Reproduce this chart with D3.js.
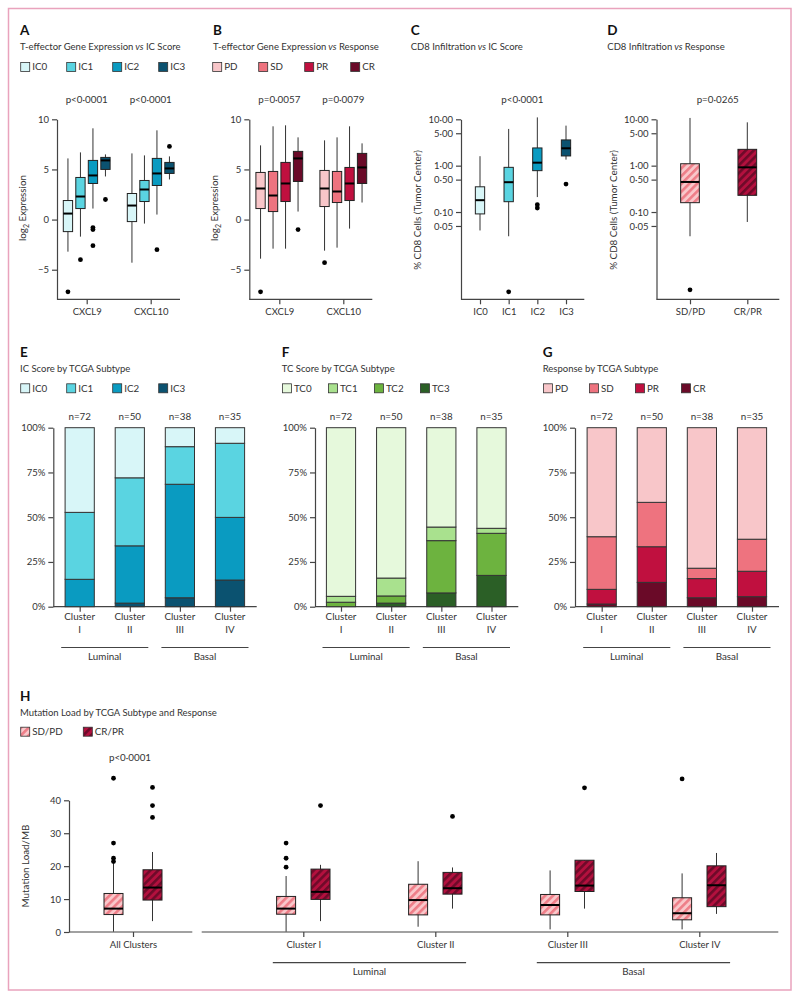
<!DOCTYPE html>
<html><head><meta charset="utf-8">
<script src="https://cdn.jsdelivr.net/npm/d3@7"></script>
<style>
body{margin:0;background:#fff;}
text{font-family:Lato,"Open Sans",sans-serif;fill:#333;}
.axis path,.axis line{stroke:#444;stroke-width:1.2;}
.axis text{font-family:Lato,"Open Sans",sans-serif;fill:#333;font-size:9.5px;}
</style></head><body>
<svg id="chart" width="800" height="1000"></svg>
<script>
// ---------- DATA ----------
const genes = ["CXCL9", "CXCL10"];
const icScores = ["IC0", "IC1", "IC2", "IC3"];
const tcScores = ["TC0", "TC1", "TC2", "TC3"];
const responses = ["PD", "SD", "PR", "CR"];
const respPairs = ["SD/PD", "CR/PR"];
// box stats: [whiskerLow, q1, median, q3, whiskerHigh]
const aCXCL9 = [[-3.2,-1.2,0.6,1.9,6.1],[-1.7,1.1,2.3,4.2,6.7],[1.1,3.6,4.4,5.9,9.1],[4.3,5.0,5.9,6.2,6.5]];
const aCXCL9Out = [[-7.2],[-4.0],[-0.8,-1.0,-2.6],[2.0]];
const aCXCL10 = [[-4.3,-0.2,1.4,2.6,6.6],[-0.4,1.8,3.0,3.9,6.4],[0.5,3.4,4.6,6.1,8.9],[4.0,4.6,5.1,5.7,6.3]];
const aCXCL10Out = [[],[],[-3.0],[7.3]];
const bCXCL9 = [[-3.9,1.1,3.1,4.7,7.4],[-2.9,0.8,2.4,4.8,9.3],[-2.9,1.8,3.6,5.7,9.4],[0.8,3.8,6.1,6.8,8.2]];
const bCXCL9Out = [[-7.2],[],[],[-1.0]];
const bCXCL10 = [[-3.1,1.3,3.1,4.9,7.9],[-2.8,1.7,2.8,4.8,8.2],[-0.9,1.9,3.6,5.2,9.3],[1.7,3.6,5.2,6.6,7.6]];
const bCXCL10Out = [[-4.3],[],[],[]];
const pA = ["p<0·0001", "p<0·0001"];
const pB = ["p=0·0057", "p=0·0079"];
const cStats = [[0.040,0.091,0.18,0.35,1.6],[0.030,0.167,0.44,0.92,6.2],[0.21,0.78,1.16,2.41,11.0],[1.35,1.62,2.37,3.59,7.3]];
const cOut = [[],[0.0019],[0.144,0.122],[0.40]];
const dStats = [[0.030,0.159,0.445,1.10,10.7],[0.061,0.229,0.92,2.25,8.6]];
const dOut = [[0.0021],[]];
const logTicks = [10, 5, 1, 0.5, 0.1, 0.05];
const linTicks = [-5, 0, 5, 10];
const pctTicks = [0, 25, 50, 75, 100];

const clusters = ["Cluster I", "Cluster II", "Cluster III", "Cluster IV"];
const clusterNum = ["I", "II", "III", "IV"];
const clusterN = [72, 50, 38, 35];
const subtypeNames = ["Luminal", "Basal"];
const subtypeSpans = [["Cluster I", "Cluster II"], ["Cluster III", "Cluster IV"]];
const eIC0 = [47.3, 28, 10.6, 8.7];
const eIC1 = [37.4, 38, 21, 41.4];
const eIC2 = [15.3, 32, 63.4, 35];
const eIC3 = [0, 2, 5, 14.9];
const fTC0 = [94.2, 84, 55.5, 56.2];
const fTC1 = [3.3, 10, 7.6, 2.8];
const fTC2 = [2.5, 4, 29.2, 23.5];
const fTC3 = [0, 2, 7.7, 17.5];
const gPD = [60.9, 41.7, 78.5, 62.3];
const gSD = [29.4, 24.8, 5.8, 17.9];
const gPR = [8.2, 19.9, 10.7, 14.2];
const gCR = [1.5, 13.6, 5.0, 5.6];

const hAll = ["All Clusters"];
const hSDPD = [[0.1,5.3,7.1,11.7,20.8],[0.1,5.4,7.1,10.8,17.0],[1.6,5.2,9.7,14.5,21.5],[0.8,5.2,8.2,11.4,18.7],[0.8,3.7,5.7,10.4,17.8]];
const hSDPDOut = [[46.7,27.0,22.4,21.4],[27.0,22.4,19.7],[],[],[46.5]];
const hCRPR = [[3.3,9.7,13.5,18.9,24.3],[3.3,9.9,12.2,19.1,20.4],[7.1,11.5,13.3,18.1,19.6],[7.1,12.3,14.1,21.8,21.8],[5.5,7.7,14.2,20.1,24.0]];
const hCRPROut = [[43.9,38.4,34.8],[38.4],[35.1],[43.8],[]];
const hTicks = [0, 10, 20, 30, 40];
const pH = "p<0·0001";

// ---------- STYLE ----------
const icColors = ["#d8f6f8", "#5ad4e1", "#0a9bc1", "#0b5270"];
const tcColors = ["#e6f9dc", "#a9e18e", "#6db33f", "#2b5f26"];
const respColors = ["#f8c6c9", "#ee737f", "#c0103f", "#6a0a28"];

const svg = d3.select("#chart");
svg.append("rect").attr("x", 8.5).attr("y", 8.5).attr("width", 782.5).attr("height", 981.5)
  .attr("fill", "none").attr("stroke", "#e9a3bd").attr("stroke-width", 1.5);

const defs = svg.append("defs");
function hatch(id, bg, fg) {
  const p = defs.append("pattern").attr("id", id).attr("patternUnits", "userSpaceOnUse")
    .attr("width", 5.5).attr("height", 5.5).attr("patternTransform", "rotate(45)");
  p.append("rect").attr("width", 5.5).attr("height", 5.5).attr("fill", bg);
  p.append("rect").attr("width", 2.6).attr("height", 5.5).attr("fill", fg);
}
hatch("hLight", "#f9c7ca", "#ee7d87");
hatch("hDark", "#b3103e", "#6e0a29");
const pairFills = ["url(#hLight)", "url(#hDark)"];

function head(x, y, letter, title) {
  svg.append("text").attr("x", x).attr("y", y).text(letter)
    .attr("font-size", 13.5).attr("font-weight", 700).style("fill", "#111");
  const t = svg.append("text").attr("x", x).attr("y", y + 15).attr("font-size", 9.5);
  const parts = title.split(" vs ");
  t.append("tspan").text(parts[0]);
  if (parts.length > 1) {
    t.append("tspan").text(" vs ").attr("font-style", "italic");
    t.append("tspan").text(parts[1]);
  }
}
function legend(x0, yc, step, labels, fills) {
  labels.forEach((l, i) => {
    const x = x0 + i * step;
    svg.append("rect").attr("x", x).attr("y", yc - 4.5).attr("width", 9).attr("height", 9)
      .attr("fill", fills[i]).attr("stroke", "#333").attr("stroke-width", 0.8);
    svg.append("text").attr("x", x + 11.5).attr("y", yc + 3.4).attr("font-size", 9.8).text(l);
  });
}
function drawBox(cx, w, s, outs, y, fill) {
  svg.append("line").attr("x1", cx).attr("x2", cx).attr("y1", y(s[0])).attr("y2", y(s[4]))
    .attr("stroke", "#333").attr("stroke-width", 1);
  svg.append("rect").attr("x", cx - w / 2).attr("y", y(s[3])).attr("width", w)
    .attr("height", y(s[1]) - y(s[3])).attr("fill", fill).attr("stroke", "#222").attr("stroke-width", 1);
  svg.append("line").attr("x1", cx - w / 2).attr("x2", cx + w / 2).attr("y1", y(s[2])).attr("y2", y(s[2]))
    .attr("stroke", "#000").attr("stroke-width", 2);
  outs.forEach(o => svg.append("circle").attr("cx", cx).attr("cy", y(o)).attr("r", 2.4).attr("fill", "#000"));
}
function yAxis(x, scale, ticks, fmt) {
  const g = svg.append("g").attr("class", "axis").attr("transform", `translate(${x},0)`)
    .call(d3.axisLeft(scale).tickValues(ticks).tickFormat(fmt).tickSize(5).tickSizeOuter(0).tickPadding(3));
  return g;
}
function xAxisLine(x1, x2, y) {
  svg.append("line").attr("x1", x1).attr("x2", x2).attr("y1", y).attr("y2", y)
    .attr("stroke", "#444").attr("stroke-width", 1.2);
}
function xAxisTicks(scale, y, withLabels) {
  const g = svg.append("g").attr("class", "axis").attr("transform", `translate(0,${y})`)
    .call(d3.axisBottom(scale).tickSize(5).tickSizeOuter(0).tickPadding(4));
  g.select(".domain").remove();
  if (!withLabels) g.selectAll("text").remove();
  return g;
}
function yTitle(x, yc, parts) {
  const t = svg.append("text").attr("transform", `translate(${x},${yc}) rotate(-90)`)
    .attr("text-anchor", "middle").attr("font-size", 9.8);
  parts.forEach(p => {
    const s = t.append("tspan").text(p[0]);
    if (p[1]) s.attr("font-size", 7).attr("dy", 3);
    else if (p[2]) s.attr("dy", -3);
  });
}
const dotFmt = d => d3.format(".2f")(d).replace(".", "·");

// ---------- PANEL A & B ----------
const yExp = d3.scaleLinear().domain([-7.95, 10]).range([299.3, 119.3]);
function exprPanel(x0, axisX, xTicks, letter, title, cats, fills, s9, o9, s10, o10, pv) {
  head(letter === "A" ? 20 : 213, 34.5, letter, title);
  legend(letter === "A" ? 20.7 : 212.7, 67, 46, cats, fills);
  const xg = d3.scalePoint().domain(genes).range(xTicks);
  const sub = d3.scaleBand().domain(cats).range([-25, 25]);
  yAxis(axisX, yExp, linTicks, d3.format("d"));
  xAxisLine(axisX, axisX + 123, yExp(-7.95));
  xAxisTicks(xg, yExp(-7.95), true);
  genes.forEach((g, gi) => {
    const st = gi === 0 ? s9 : s10, ou = gi === 0 ? o9 : o10;
    cats.forEach((c, ci) => {
      drawBox(xg(g) + sub(c) + sub.bandwidth() / 2, 9.3, st[ci], ou[ci], yExp, fills[ci]);
    });
    svg.append("text").attr("x", xg(g)).attr("y", 102.5).attr("text-anchor", "middle")
      .attr("font-size", 9.8).text(pv[gi]);
  });
  yTitle(axisX - 31, 208, [["log"], ["2", true], [" Expression", false, true]]);
}
exprPanel(57, 57, [86.7, 150.7], "A", "T-effector Gene Expression vs IC Score", icScores, icColors,
  aCXCL9, aCXCL9Out, aCXCL10, aCXCL10Out, pA);
exprPanel(249.3, 249.3, [279.3, 343.3], "B", "T-effector Gene Expression vs Response", responses, respColors,
  bCXCL9, bCXCL9Out, bCXCL10, bCXCL10Out, pB);

// ---------- PANEL C & D ----------
const yCD8 = d3.scaleLog().domain([0.00131, 10]).range([299.3, 119.3]);
head(410.7, 34.5, "C", "CD8 Infiltration vs IC Score");
yAxis(461, yCD8, logTicks, dotFmt);
xAxisLine(461, 584.3, 299.3);
const xC = d3.scalePoint().domain(icScores).range([480, 566]);
xAxisTicks(xC, 299.3, true);
icScores.forEach((c, i) => drawBox(xC(c), 9.3, cStats[i], cOut[i], yCD8, icColors[i]));
svg.append("text").attr("x", 522.3).attr("y", 102.5).attr("text-anchor", "middle").attr("font-size", 9.8).text("p<0·0001");
yTitle(421, 210, [["% CD8 Cells (Tumor Center)"]]);

head(607.3, 34.5, "D", "CD8 Infiltration vs Response");
yAxis(656.5, yCD8, logTicks, dotFmt);
xAxisLine(656.5, 779.3, 299.3);
const xD = d3.scalePoint().domain(respPairs).range([690, 747.3]);
xAxisTicks(xD, 299.3, true);
respPairs.forEach((c, i) => drawBox(xD(c), 18.7, dStats[i], dOut[i], yCD8, pairFills[i]));
svg.append("text").attr("x", 717.7).attr("y", 102.5).attr("text-anchor", "middle").attr("font-size", 9.8).text("p=0·0265");
yTitle(616.5, 210, [["% CD8 Cells (Tumor Center)"]]);

// ---------- PANELS E, F, G ----------
const yPct = d3.scaleLinear().domain([0, 100]).range([606.7, 427.7]);
function stackPanel(letterX, axisX, xEnd, centers, letter, title, cats, colors, series) {
  head(letterX, 356.5, letter, title);
  legend(letterX + 0.7, 388.3, 46, cats, colors);
  const x = d3.scalePoint().domain(clusters).range(centers);
  yAxis(axisX, yPct, pctTicks, d => d + "%");
  xAxisLine(axisX, xEnd, yPct(0));
  xAxisTicks(x, yPct(0), false);
  const rows = clusters.map((c, i) => {
    const r = { cluster: c };
    cats.forEach((k, ki) => r[k] = series[ki][i]);
    return r;
  });
  const stack = d3.stack().keys(cats.slice().reverse())(rows);
  stack.forEach(layer => {
    const ci = cats.indexOf(layer.key);
    layer.forEach(d => {
      if (d[1] - d[0] <= 0) return;
      svg.append("rect").attr("x", x(d.data.cluster) - 14.6).attr("width", 29.2)
        .attr("y", yPct(d[1])).attr("height", yPct(d[0]) - yPct(d[1]))
        .attr("fill", colors[ci]).attr("stroke", "#333").attr("stroke-width", 1);
    });
  });
  clusters.forEach((c, i) => {
    svg.append("text").attr("x", x(c)).attr("y", 420).attr("text-anchor", "middle").attr("font-size", 9.8).text("n=" + clusterN[i]);
    const t = svg.append("text").attr("x", x(c)).attr("y", 620).attr("text-anchor", "middle").attr("font-size", 9.8);
    t.append("tspan").attr("x", x(c)).text("Cluster");
    t.append("tspan").attr("x", x(c)).attr("dy", 13).text(clusterNum[i]);
  });
  subtypeSpans.forEach((sp, si) => {
    const a = x(sp[0]) - 18.5, b = x(sp[1]) + 18.5;
    svg.append("line").attr("x1", a).attr("x2", b).attr("y1", 647.5).attr("y2", 647.5).attr("stroke", "#444").attr("stroke-width", 1.2);
    svg.append("text").attr("x", (a + b) / 2).attr("y", 659.5).attr("text-anchor", "middle").attr("font-size", 9.8).text(subtypeNames[si]);
  });
}
stackPanel(20, 53.3, 256.7, [79.7, 230], "E", "IC Score by TCGA Subtype", icScores, icColors, [eIC0, eIC1, eIC2, eIC3]);
stackPanel(281.7, 315, 518.3, [341, 491.5], "F", "TC Score by TCGA Subtype", tcScores, tcColors, [fTC0, fTC1, fTC2, fTC3]);
stackPanel(542.7, 575, 779, [601.7, 752], "G", "Response by TCGA Subtype", responses, respColors, [gPD, gSD, gPR, gCR]);

// ---------- PANEL H ----------
const yMut = d3.scaleLinear().domain([0, 40]).range([932, 800.3]);
head(20, 701, "H", "Mutation Load by TCGA Subtype and Response");
svg.append("rect").attr("x", 20.7).attr("y", 727.2).attr("width", 9).attr("height", 9).attr("fill", pairFills[0]).attr("stroke", "#333").attr("stroke-width", 0.8);
svg.append("text").attr("x", 32.2).attr("y", 735.1).attr("font-size", 9.8).text(respPairs[0]);
svg.append("rect").attr("x", 83.3).attr("y", 727.2).attr("width", 9).attr("height", 9).attr("fill", pairFills[1]).attr("stroke", "#333").attr("stroke-width", 0.8);
svg.append("text").attr("x", 94.8).attr("y", 735.1).attr("font-size", 9.8).text(respPairs[1]);
yAxis(69, yMut, hTicks, d3.format("d"));
xAxisLine(69, 192.3, 932);
xAxisLine(201.7, 778.3, 932);
const xAll = d3.scalePoint().domain(hAll).range([69, 197]).padding(0.5);
const xClu = d3.scalePoint().domain(clusters).range([303.3, 699.3]);
xAxisTicks(xAll, 932, true);
xAxisTicks(xClu, 932, true);
const hGroupX = [xAll(hAll[0])].concat(clusters.map(c => xClu(c)));
hGroupX.forEach((gx, i) => {
  const off = i === 0 ? 19.5 : 17.2;
  drawBox(gx - off, 19, hSDPD[i], hSDPDOut[i], yMut, pairFills[0]);
  drawBox(gx + off, 19, hCRPR[i], hCRPROut[i], yMut, pairFills[1]);
});
svg.append("text").attr("x", 130).attr("y", 761).attr("text-anchor", "middle").attr("font-size", 9.8).text(pH);
subtypeSpans.forEach((sp, si) => {
  const a = xClu(sp[0]) - 30.5, b = xClu(sp[1]) + 30.8;
  svg.append("line").attr("x1", a).attr("x2", b).attr("y1", 962.7).attr("y2", 962.7).attr("stroke", "#444").attr("stroke-width", 1.2);
  svg.append("text").attr("x", (a + b) / 2).attr("y", 975).attr("text-anchor", "middle").attr("font-size", 9.8).text(subtypeNames[si]);
});
yTitle(28.5, 866, [["Mutation Load/MB"]]);
</script></body></html>
